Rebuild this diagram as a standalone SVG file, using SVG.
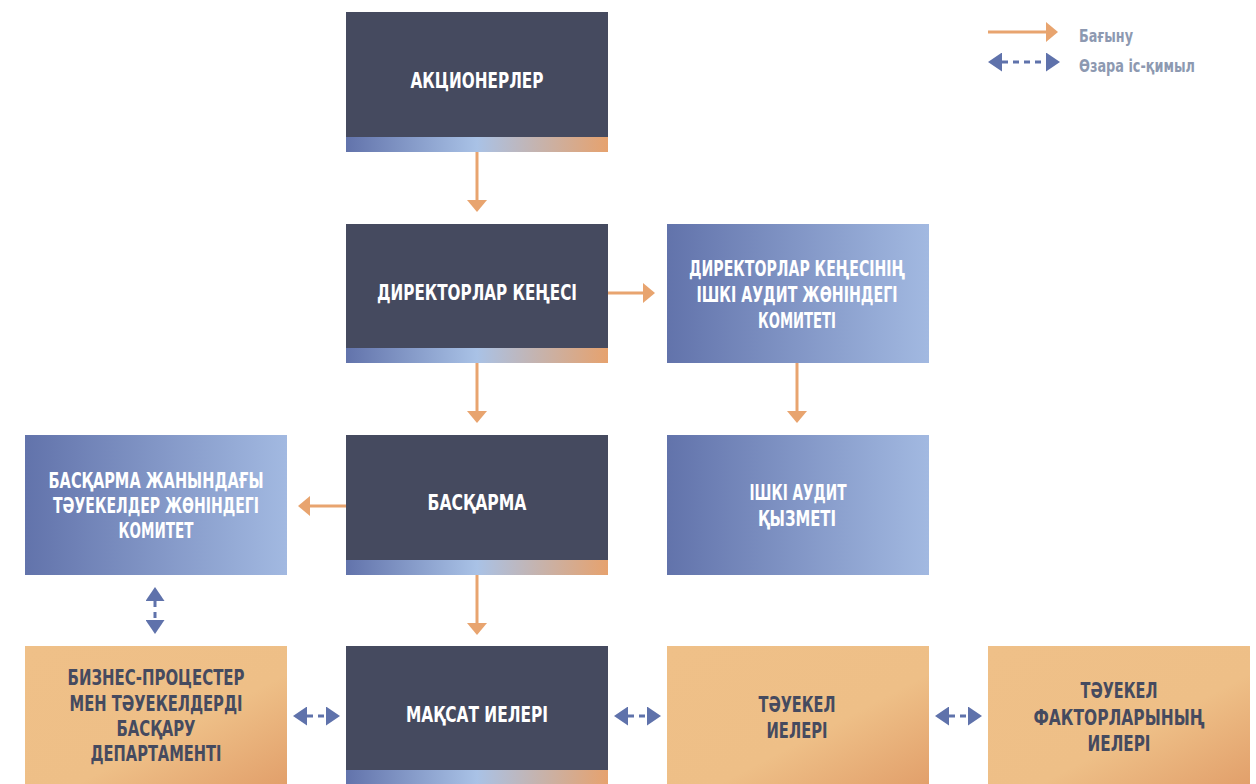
<svg xmlns="http://www.w3.org/2000/svg" width="1256" height="784" viewBox="0 0 1256 784">
<defs>
<linearGradient id="bar" x1="0" y1="0" x2="1" y2="0">
<stop offset="0" stop-color="#6273ab"/>
<stop offset="0.5" stop-color="#a9c2e6"/>
<stop offset="1" stop-color="#e6a26e"/>
</linearGradient>
<linearGradient id="blue" x1="0" y1="0" x2="1" y2="0">
<stop offset="0" stop-color="#6273ab"/>
<stop offset="1" stop-color="#a2b9e1"/>
</linearGradient>
<linearGradient id="orange" x1="0" y1="0" x2="1" y2="1">
<stop offset="0" stop-color="#efc088"/>
<stop offset="0.6" stop-color="#eebf87"/>
<stop offset="1" stop-color="#e2a06b"/>
</linearGradient>
<marker id="ah" markerUnits="userSpaceOnUse" markerWidth="12" markerHeight="20" viewBox="0 0 12 20" refX="0" refY="10" orient="auto">
<path d="M0,0 L12,10 L0,20 z" fill="#e8a46f"/>
</marker>
<marker id="bh" markerUnits="userSpaceOnUse" markerWidth="14" markerHeight="19" viewBox="0 0 14 19" refX="0" refY="9.5" orient="auto-start-reverse">
<path d="M0,0 L14,9.5 L0,19 z" fill="#5f72ab"/>
</marker>
<style>
.dark{fill:#454a5f}
.t{font-family:"DejaVu Sans Condensed","DejaVu Sans",sans-serif;font-weight:bold;font-size:22px;text-anchor:middle}
.w{fill:#ffffff}
.d{fill:#454a5f}
.sub{stroke:#e8a46f;stroke-width:3;fill:none;marker-end:url(#ah)}
.int{stroke:#5f72ab;stroke-width:3;fill:none;stroke-dasharray:6 5;marker-start:url(#bh);marker-end:url(#bh)}
.lg{font-family:"DejaVu Sans Condensed","DejaVu Sans",sans-serif;font-weight:bold;font-size:17px;fill:#8d99b1}
</style>
</defs>
<rect width="1256" height="784" fill="#ffffff"/>

<g id="legend">
<path class="sub" d="M988,32 H1046"/>
<text class="lg" x="1079" y="42" textLength="54" lengthAdjust="spacingAndGlyphs">Бағыну</text>
<path class="int" d="M1002,62 H1046"/>
<text class="lg" x="1079" y="72" textLength="116" lengthAdjust="spacingAndGlyphs">Өзара іс-қимыл</text>
</g>

<g id="connectors">
<path class="sub" d="M477,152 V200"/>
<path class="sub" d="M477,363 V411"/>
<path class="sub" d="M797,363 V411"/>
<path class="sub" d="M477,575 V623"/>
<path class="sub" d="M608,293 H643"/>
<path class="sub" d="M346,506 H310"/>
<path class="int" d="M155,601 V620"/>
<path class="int" d="M307,716 H326"/>
<path class="int" d="M628,716 H647"/>
<path class="int" d="M949,716 H968"/>
</g>

<g id="shareholders">
<rect class="dark" x="346" y="12" width="262" height="125"/>
<rect x="346" y="137" width="262" height="15" fill="url(#bar)"/>
<text class="t w" x="477" y="88" textLength="133" lengthAdjust="spacingAndGlyphs">АКЦИОНЕРЛЕР</text>
</g>

<g id="board">
<rect class="dark" x="346" y="224" width="262" height="124"/>
<rect x="346" y="348" width="262" height="15" fill="url(#bar)"/>
<text class="t w" x="477" y="300" textLength="200" lengthAdjust="spacingAndGlyphs">ДИРЕКТОРЛАР КЕҢЕСІ</text>
</g>

<g id="audit-committee">
<rect x="667" y="224" width="262" height="139" fill="url(#blue)"/>
<text class="t w" x="797" y="276" textLength="216" lengthAdjust="spacingAndGlyphs">ДИРЕКТОРЛАР КЕҢЕСІНІҢ</text>
<text class="t w" x="797" y="302" textLength="201" lengthAdjust="spacingAndGlyphs">ІШКІ АУДИТ ЖӨНІНДЕГІ</text>
<text class="t w" x="797" y="328" textLength="78" lengthAdjust="spacingAndGlyphs">КОМИТЕТІ</text>
</g>

<g id="internal-audit">
<rect x="667" y="435" width="262" height="140" fill="url(#blue)"/>
<text class="t w" x="798" y="500" textLength="97" lengthAdjust="spacingAndGlyphs">ІШКІ АУДИТ</text>
<text class="t w" x="797" y="526" textLength="78" lengthAdjust="spacingAndGlyphs">ҚЫЗМЕТІ</text>
</g>

<g id="management">
<rect class="dark" x="346" y="435" width="262" height="125"/>
<rect x="346" y="560" width="262" height="15" fill="url(#bar)"/>
<text class="t w" x="477" y="510" textLength="99" lengthAdjust="spacingAndGlyphs">БАСҚАРМА</text>
</g>

<g id="risk-committee">
<rect x="25" y="435" width="262" height="140" fill="url(#blue)"/>
<text class="t w" x="156" y="488" textLength="215" lengthAdjust="spacingAndGlyphs">БАСҚАРМА ЖАНЫНДАҒЫ</text>
<text class="t w" x="156" y="513" textLength="206" lengthAdjust="spacingAndGlyphs">ТӘУЕКЕЛДЕР ЖӨНІНДЕГІ</text>
<text class="t w" x="156" y="538" textLength="75" lengthAdjust="spacingAndGlyphs">КОМИТЕТ</text>
</g>

<g id="risk-department">
<rect x="25" y="646" width="262" height="138" fill="url(#orange)"/>
<text class="t d" x="156" y="685" textLength="177" lengthAdjust="spacingAndGlyphs">БИЗНЕС-ПРОЦЕСТЕР</text>
<text class="t d" x="156" y="711" textLength="173" lengthAdjust="spacingAndGlyphs">МЕН ТӘУЕКЕЛДЕРДІ</text>
<text class="t d" x="156" y="736" textLength="79" lengthAdjust="spacingAndGlyphs">БАСҚАРУ</text>
<text class="t d" x="156" y="761" textLength="131" lengthAdjust="spacingAndGlyphs">ДЕПАРТАМЕНТІ</text>
</g>

<g id="objective-owners">
<rect class="dark" x="346" y="646" width="262" height="124"/>
<rect x="346" y="770" width="262" height="14" fill="url(#bar)"/>
<text class="t w" x="477" y="722" textLength="142" lengthAdjust="spacingAndGlyphs">МАҚСАТ ИЕЛЕРІ</text>
</g>

<g id="risk-owners">
<rect x="667" y="646" width="262" height="138" fill="url(#orange)"/>
<text class="t d" x="797" y="712" textLength="77" lengthAdjust="spacingAndGlyphs">ТӘУЕКЕЛ</text>
<text class="t d" x="797" y="738" textLength="61" lengthAdjust="spacingAndGlyphs">ИЕЛЕРІ</text>
</g>

<g id="risk-factor-owners">
<rect x="988" y="646" width="262" height="138" fill="url(#orange)"/>
<text class="t d" x="1119" y="698" textLength="77" lengthAdjust="spacingAndGlyphs">ТӘУЕКЕЛ</text>
<text class="t d" x="1119" y="725" textLength="171" lengthAdjust="spacingAndGlyphs">ФАКТОРЛАРЫНЫҢ</text>
<text class="t d" x="1119" y="751" textLength="63" lengthAdjust="spacingAndGlyphs">ИЕЛЕРІ</text>
</g>
</svg>
